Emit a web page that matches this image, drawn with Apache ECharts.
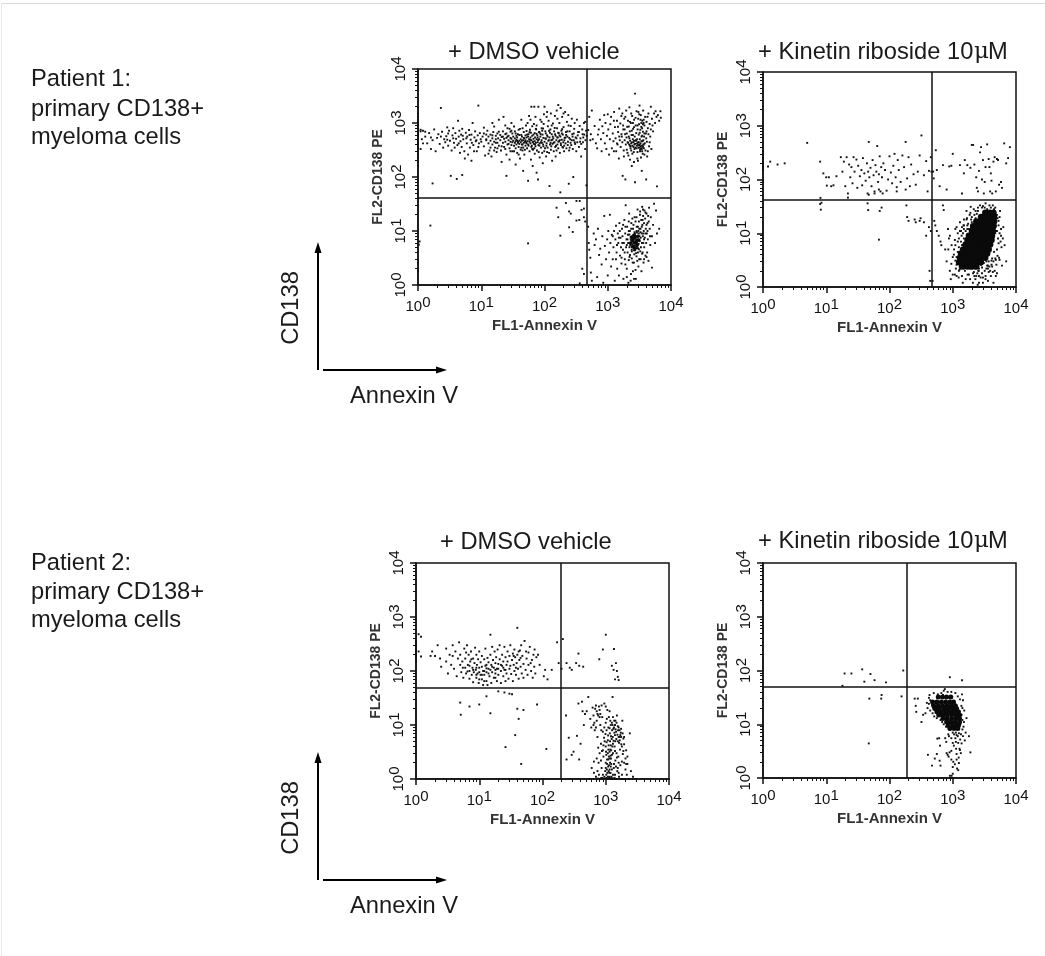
<!DOCTYPE html>
<html><head><meta charset="utf-8">
<style>html,body{margin:0;padding:0;background:#fff}#c{width:1045px;height:956px}</style>
<script src="https://cdn.jsdelivr.net/npm/echarts@6/dist/echarts.min.js"></script>
</head><body><div id="c"></div>
<script>
const panelTitles=["+ DMSO vehicle","+ Kinetin riboside 10","+ DMSO vehicle","+ Kinetin riboside 10"];
const gateX=[470,470,193,190];
const gateY=[42,42,49,49];

const p1UpperLeft=[[1,160],[1,190],[1,230],[1,260],[1,300],[1,340],[1,380],[1,420],[1,470],[1,520],[1,560],[1,600],[1,640],[1,680],[1,720],[1,760],[1,800],[1,880],[1,950],[1,1050],[1,1150],[1,1300],[1,1500],[1,1900],[1.1,700],[1.1,750],[1.2,720],[1.3,690],[1.15,500],[1.2,420],[1.1,330],
[1.3,560],[1.4,420],[1.5,650],[1.6,330],[1.7,480],[1.8,760],[1.9,300],[2,530],[2.1,620],[2.2,410],[2.3,1900],[2.4,690],[2.5,350],[2.6,500],[2.7,440],[2.8,570],[2.9,830],[3,380],[3,640],[3.1,720],[3.2,470],[3.3,105],[3.4,310],[3.5,590],[3.6,800],[3.7,430],[3.8,350],[3.9,650],[4,510],[4.1,92],[4.2,390],[4.3,1100],[4.4,560],[4.5,720],[4.6,280],[4.7,460],[4.8,610],[4.9,360],[5,109],[5,780],[5.2,500],[5.4,300],[5.5,220],[5.7,660],[5.9,420],[6,560],[6.2,260],[6.4,740],[6.6,350],[6.8,490],[7,610],[7,200],[7.3,1000],[7.5,390],[7.8,540],[8,700],[8.2,460],[8.5,300],[8.8,590],[9,2100],[9.2,420],[9.5,650],[9.8,500],[1.7,76],
[10,450],[10.5,560],[11,370],[11,640],[11.5,250],[12,500],[12,480],[12.5,720],[13,420],[13,560],[13.5,310],[14,610],[14,470],[14.5,240],[15,520],[15,400],[15.5,680],[16,450],[16,860],[16.5,350],[17,580],[17,500],[17.5,290],[18,430],[18,640],[18.5,520],[19,1150],[19,380],[20,600],[20,480],[20.5,310],[21,190],[21,550],[22,430],[22,700],[22.5,1300],[23,510],[23,360],[24,620],[24,450],[25,105],[25,260],[25,530],[26,400],[26,800],[27,480],[27,580],[28,340],[28,210],[29,450],[29,690],[30,510],[30,390],[30,1000],[31,300],[31,440],[32,560],[32,470],[33,380],[33,860],[34,430],[34,520],[35,170],[35,460],[35,640],[36,400],[36,490],[37,280],[37,540],[38,430],[38,450],[39,750],[39,360],[40,470],[40,410],[40,600],[41,220],[42,500],[42,440],[43,350],[43,1150],[44,470],[44,560],[45,400],[45,310],[46,130],[46,480],[47,430],[47,680],[48,520],[48,260],[49,450],[50,380],[50,590],[50,480],[51,900],[52,420],[52,540],[53,340],[54,460],[54,1000],[55,400],[55,85],[56,620],[57,500],[57,1350],[58,300],[58,450],[59,750],[60,420],[60,1150],[60,540],[61,210],[62,2000],[62,480],[63,380],[64,580],[64,870],[65,440],[65,160],[66,320],[67,510],[68,960],[68,410],[69,2000],[70,650],[70,460],[70,270],[71,540],[72,1300],[72,370],[73,430],[74,760],[75,500],[75,120],[76,310],[77,590],[78,440],[79,90],[80,2000],[80,390],[82,680],[82,500],[84,230],[84,420],[86,1150],[86,560],[88,350],[88,440],[90,800],[90,480],[92,280],[93,610],[94,180],[95,400],[96,530],[97,960],[98,1450],[100,2000],[100,450],
[102,340],[103,700],[105,510],[106,240],[108,1300],[108,420],[110,590],[112,350],[113,870],[115,470],[116,1100],[118,280],[120,540],[120,68],[122,400],[124,760],[126,1500],[126,320],[128,480],[130,620],[132,200],[134,410],[136,980],[138,520],[140,300],[142,700],[144,440],[146,1350],[148,360],[150,580],[150,240],[154,480],[156,1700],[158,800],[160,400],[162,540],[165,2150],[165,340],[168,650],[170,460],[172,1000],[175,280],[178,52],[178,560],[180,1900],[182,390],[185,720],[188,490],[190,1300],[192,360],[195,610],[198,440],[200,840],[204,300],[208,530],[212,1600],[215,420],[218,680],[222,340],[226,1050],[230,560],[235,450],[238,1400],[242,75],[245,310],[250,700],[255,500],[260,880],[265,390],[270,1200],[275,620],[280,330],[285,100],[290,480],[295,780],[300,1000],[305,410],[310,540],[318,300],[325,1150],[330,440],[340,680],[350,360],[360,880],[370,520],[380,240],[395,760],[405,440],[420,1000],[425,610],[440,1050],[445,480],[455,720],[460,70],[465,580]];
const p1BandExtra=[[12,610],[14,350],[11,820],[17,430],[13,270],[22,560],[19,690],[16,310],[28,780],[25,640],[21,370],[33,300],[30,720],[27,410],[38,620],[35,340],[41,780],[46,350],[43,600],[39,260],[52,710],[49,320],[55,560],[58,680],[62,360],[67,610],[73,780],[69,340],[78,540],[84,660],[81,290],[92,720],[96,370],[105,640],[110,290],[118,720],[125,430],[135,560],[145,810],[155,310],[165,660],[175,480],[190,770],[205,380],[215,540],[230,700],[250,350],[270,480],[290,640],[320,520],[350,680],[380,410],[410,540],[440,330],[15,590],[18,340],[24,330],[26,560],[29,300],[31,640],[34,700],[37,470],[29,530],[36,580],[42,320],[44,400],[47,530],[51,440],[53,610],[56,380],[59,490],[61,660],[64,330],[66,450],[71,400],[75,630],[79,480],[83,380],[87,620],[91,430],[95,790],[99,300],[103,520],[107,380],[112,560],[117,480],[122,660],[128,370],[133,490],[139,430],[147,620],[152,380],[159,540],[166,450],[173,590],[181,420],[188,640],[196,350],[206,480],[220,600],[233,390],[246,530],[258,430],[278,560],[300,440],[335,590],[365,450],[400,620],[6.5,600],[7.7,300],[8.4,480],[5.1,580],[4.4,420],[3.6,520],[2.9,490],[2.3,560],[1.6,540],[9,360],[7.1,430],[5.8,520],[130,900],[160,1200],[200,1500],[240,900],[90,1050],[110,1600],[75,900],[45,800],[24,900],[15,1000]];
const p1UpperRight=[[490,740],[510,1300],[530,480],[540,620],[560,1700],[580,500],[620,880],[650,420],[680,340],[700,610],[720,760],[750,1150],[780,500],[800,300],[820,870],[850,650],[880,1400],[900,420],[920,1000],[950,330],[970,580],[1000,1450],[1020,760],[1050,260],[1080,500],[1100,950],[1130,1300],[1160,340],[1200,640],[1230,460],[1260,1600],[1300,840],[1330,520],[1360,300],[1400,1100],[1430,400],[1460,680],[1500,220],[1520,1850],[1550,480],[1580,980],[1600,360],[1640,1350],[1670,560],[1700,440],[1720,105],[1760,760],[1790,310],[1820,1200],[1850,480],[1880,620],[1900,90],[1930,400],[1960,1700],[1980,540],[2000,320],[2030,850],[2060,440],[2090,1100],[2120,250],[2150,560],[2180,400],[2200,1950],[2230,700],[2260,470],[2290,340],[2320,1000],[2350,420],[2380,600],[2400,160],[2430,1350],[2460,380],[2490,500],[2520,780],[2550,440],[2580,290],[2610,1150],[2640,400],[2670,560],[2700,3500],[2700,80],[2730,350],[2760,900],[2790,470],[2820,650],[2850,1650],[2880,380],[2910,500],[2940,220],[2970,760],[3000,440],[3030,1200],[3060,350],[3090,610],[3120,950],[3150,400],[3180,2100],[3210,500],[3240,300],[3270,750],[3300,420],[3330,1400],[3360,340],[3390,850],[3420,560],[3450,130],[3480,380],[3510,1100],[3540,460],[3570,270],[3600,690],[3630,1700],[3660,400],[3690,1000],[3720,340],[3750,560],[3800,900],[3850,420],[3900,1300],[3950,310],[4000,640],[4050,90],[4100,1050],[4150,450],[4200,240],[4300,800],[4400,1500],[4500,370],[4600,960],[4700,560],[4800,2000],[4900,330],[5000,1200],[5200,700],[5400,1500],[5700,1650],[6000,67],[6200,1400],[6500,1100],[6800,1650],[6900,1250],[2100,430],[2250,380],[2400,440],[2550,360],[2700,410],[2850,340],[3000,390],[3150,350],[3300,370],[3450,330],[3600,360],[3700,400],[2200,520],[2500,600],[2800,480],[3100,440],[3400,460],[2350,310],[2650,330],[2950,290],[3250,320],[3500,300],[2300,370],[2600,470],[2900,420],[3200,390],[3500,800],[3700,1150],[3600,950],[3400,1000],
[1250,1100],[1700,1500],[1450,850],[1900,1300],[2400,720],[1650,620],[2150,860],[3050,1600],[2750,1250],[2350,1500],[3300,1150],[4250,1300],[3150,1450],[2600,840],[2000,640],[1850,760],[1520,560],[1400,420],[1250,300],[1800,240],[2250,210],[2600,190],[3000,200],[3350,230],[3800,260],[4300,300],[4600,440],[4100,700],[3800,640],[3500,580],[3200,660],[2950,900],[2500,1000],[2250,1050],[1750,900],[2050,280],[2450,270],[3650,480],[4050,520],[4400,620],[4800,760],[5100,900],[5600,1000],[5900,1300]];
const p1LowerLeft=[[1.57,12.6],[1.06,6.4],[1.03,5.6],[1,2.6],[1,1.8],[55,5.9],[155,27],[218,33],[165,18],[178,8.2],[245,23],[260,21],[245,11.7],[280,9.6],[320,36],[360,36],[385,24.6],[420,26],[320,15.6],[355,16],[420,18],[440,15],[395,2],[360,1.07],[420,1.6]];
const p1LowerRight=[[490,12],[500,6],[510,4.5],[530,3.2],[540,1.7],[560,1.2],[600,9],[620,5.5],[650,7],[680,1.4],[700,11],[730,3.6],[760,4.7],[800,2.4],[820,8],[850,1.1],[880,19],[900,5.3],[940,3],[980,7],[1000,1.5],[1020,10],[1050,4],[1080,20],[1100,6],[1130,2.2],[1160,8.5],[1200,3],[1230,5],[1260,10],[1290,1.2],[1320,7],[1350,12.5],[1380,4],[1410,2],[1440,9],[1470,6],[1500,1.5],[1530,14],[1560,3.5],[1590,7.5],[1620,5],[1650,2.5],[1680,11],[1710,8],[1740,4.5],[1770,1.3],[1800,6],[1830,16],[1860,3],[1890,9],[1920,30],[1950,5],[1980,7],[2000,2],[2030,12],[2060,4],[2090,8.5],[2120,1.1],[2150,6],[2180,21],[2210,3.3],[2240,10],[2270,5.5],[2300,7],[2330,1.6],[2360,14],[2390,4.5],[2420,8],[2450,6.5],[2480,2.6],[2510,11],[2540,5],[2570,7],[2600,6],[2630,3.7],[2660,18],[2690,9],[2720,4.4],[2750,6.5],[2780,1.3],[2810,8],[2840,5.5],[2870,12],[2900,6],[2930,2.8],[2960,25],[2990,7],[3020,4.8],[3050,10],[3080,5.8],[3110,15],[3140,3],[3170,8],[3200,6.5],[3230,20],[3260,4.2],[3290,11],[3320,7.5],[3350,5],[3380,16],[3410,1.8],[3440,9],[3470,6],[3500,28],[3530,13],[3560,4],[3590,8],[3620,19],[3650,6],[3680,2.6],[3710,10],[3740,14],[3770,5],[3800,24],[3850,7.5],[3900,17],[3950,3.5],[4000,11],[4050,6],[4100,21],[4150,9],[4200,4],[4250,14],[4300,7],[4400,2.8],[4500,27],[4600,11],[4700,5.5],[4800,18],[5000,8],[5200,13],[5400,32],[5600,6],[5800,24],[6000,9],[6500,11],[5000,2.1],[2100,6],[2200,5],[2300,5.4],[2350,6.6],[2400,5],[2450,5.7],[2500,6.3],[2550,4.8],[2600,7.4],[2650,5.4],[2700,6.2],[2750,5],[2800,7],[2850,6],[2900,4.8],[2950,7.8],[3000,5.6],[3050,6.8],[3100,4.6],[2300,7.8],[2500,8.2],[2700,8.4],[2900,9.4],[3100,9],[2400,4.2],[2600,4.4],[2800,3.9],[3000,4],[2200,8.6],[2000,5.5],
[1200,8],[1400,5.5],[1550,10],[1700,6],[1850,4],[1900,12],[2050,7],[2150,10],[2250,3.6],[2350,11],[2550,13],[2650,9.5],[2750,15],[2850,10],[3000,12],[3150,11],[3300,9.5],[3450,12],[3550,16],[3650,9],[3750,7],[3950,9],[4100,13],[4250,10],[4450,15],[4650,8],[4350,19],[3950,22],[3600,25],[3250,23],[2850,18],[2450,17],[2150,15],[1750,13],[1500,7.5],[1350,3],[1650,3.2],[1900,2.4],[2150,2.9],[2400,3.1],[2600,2.6],[2850,3.4],[3050,2.2],[3300,3],[3500,3.8],[3750,3],[4100,3.3],[2500,1.8],[2750,1.9],[2000,1.4],[2300,1.2],[2600,1.3]];
const p1Core=[[2300,6],[2500,5.2],[2500,6.8],[2700,6],[2700,7.6],[2700,4.8],[2900,6.6],[2900,5.4],[2600,8.4],[3000,8],[2400,7.6],[3100,6.8]];

const p2UpperLeft=[[1,150],[1,165],[1,180],[1,200],[1,215],[1,240],[1,255],[1,280],[1,310],[1,340],[1,95],[1.3,215],[1.2,175],[2.2,200],[1.7,190],[10,110],[9,130],[8,215],[5,480],[8.1,45.5],[8.4,37],[10.2,77],[11,110],[12,75],[13,78],[14.5,115],[17,260],[18,140],[19,215],[20,75],[21,260],[22,55],[23,190],[24,110],[25,170],[26,85],[27,260],[28,140],[30,235],[31,70],[32,180],[34,115],[36,150],[37,78],[38,250],[40,130],[42,95],[44,200],[45,55],[46,140],[47,500],[48,110],[50,165],[52,75],[54,230],[56,120],[58,60],[60,185],[62,140],[64,420],[66,90],[68,125],[70,270],[72,60],[74,170],[76,110],[78,55],[80,200],[85,150],[90,62],[95,100],[100,270],[105,135],[110,85],[115,180],[120,300],[125,110],[130,72],[135,230],[140,150],[150,90],[160,280],[170,170],[180,500],[190,105],[200,260],[210,75],[220,190],[240,125],[260,80],[280,140],[300,280],[320,660],[350,120],[380,220],[400,60],[420,145],[450,260],[460,140],[22,46],[47,52],[58,55],[68,65],[130,60],[180,65]];
const p2UpperRight=[[490,140],[500,105],[540,350],[560,150],[620,75],[700,185],[800,65],[880,175],[950,180],[1300,185],[1400,55],[1500,130],[1550,230],[1700,185],[1900,165],[2000,440],[2100,440],[2200,190],[2350,110],[2400,70],[2500,60],[2600,145],[2800,400],[2900,100],[3000,230],[3100,55],[3200,90],[3300,170],[3500,450],[3700,240],[3800,170],[3900,60],[4000,130],[4100,95],[4200,55],[4400,215],[4600,260],[5000,240],[5200,230],[5400,80],[5800,90],[6000,70],[6500,470],[7000,200],[7500,250],[8000,400],[4800,60],[1000,300],[2700,320]];
const p2LowerLeft=[[8,35],[8.2,27.5],[68,7.6],[45,36],[46,27],[70,26],[75,30],[185,33],[190,20],[200,17],[250,18],[260,16],[300,17],[310,19],[350,16],[380,9],[420,13],[450,11],[430,2],[440,1.3],[480,1.3]];
const p2LowerRight=[[510,17],[530,14],[560,11],[600,9],[640,7],[660,6],[700,33],[720,27],[760,5],[800,3],[840,12],[870,8],[900,2],[930,1.4],[960,6],[1000,1],[1040,4],[1080,1.7],[1120,2.2],[1160,1],[1200,10],[1240,1.5],[1280,2.1],[1320,1],[1360,3],[1400,1.6],[1440,1.2],[1480,14],[1520,1],[1560,2],[1600,1.4],[1640,1],[1680,19],[1720,1.7],[1760,1],[1800,2.6],[1840,1],[1880,1.4],[1920,31],[1960,1],[2000,2.2],[2040,1],[2080,1.2],[2120,1],[2160,1.9],[2200,1],[2240,1],[2280,1.4],[2320,1],[2360,1],[2400,23],[2440,1],[2480,1.1],[2520,1],[2560,2],[2600,1.2],[2640,1],[2680,2.7],[2720,1],[2760,1.5],[2800,1],[2900,1.8],[3000,1.2],[3100,1],[3200,30],[3300,1.6],[3400,1],[3500,2.5],[3600,1.3],[3700,1.9],[3800,1],[4000,1.6],[4200,2.4],[4400,1.2],[4600,2],[4800,1.6],[5000,1.8],[5400,3.5],[5600,26],[5800,9],[6000,2.5],[6300,13],[6600,6],[7000,3],[1000,1.7],[1100,6],[1150,3.6],[1250,8],[1300,4.2],[1350,7],[1400,3],[1450,6],[1500,2.2],[1550,5],[1600,4],[1650,2.6],[1700,9],[1750,3.3],[1800,12],[1850,2.2],[1900,4.5],[1950,18],[2000,16],[2050,3.8],[2100,1.8],[2150,28],[2200,3],[2250,2.2],[2300,26],[2350,1.6],[2400,2.6],[2450,1.8],[2500,30],[2550,2],[2600,2.2],[2700,33],[2800,2.6],[2900,2.3],[3000,32],[3100,2.8],[3200,2],[3300,1.4],[3400,3],[3500,28],[3600,2.2],[3700,3],[3800,2.4],[3900,2],[4000,30],[4100,2.6],[4200,3.4],[4300,1.9],[4500,28],[4700,24],[4800,3.2],[4900,2.6],[5100,19],[5300,14],[5500,10],[5700,7],[5900,5.5],[1150,13],[1300,11],[1200,4.5],[1380,9],[1500,8],[1250,2],[1150,1.6],
[900,9],[1050,5],[1100,12],[1200,7],[1300,16],[1400,6],[1500,12],[1650,18],[1750,15],[1850,22],[1500,18],[1650,26],[1300,3],[1150,2.6],[1000,3.6],[850,5],[950,2.7],[1100,3.1],[1250,5.5],[1080,7.5],[1350,11],[1500,14],[1700,14],[1450,10],[4500,4.5],[4700,10],[4800,14],[5000,5],[5200,8],[5300,6.5],[5500,3.2],[5100,3.8],[4700,3.4],[4400,3],[4100,3.1],[3600,2.5],[3400,2.2],[3000,1.5],[2600,1.6],[2200,1.6],[1800,1.7],[5000,11],[5300,17],[5000,22],[4700,30],[4300,33],[3800,33],[3300,36],[2900,30],[2500,26],[2200,22],[1900,24],[5800,12],[6200,8],[5500,20],[1700,12],[1600,11],[1400,13],[2000,20],[2300,19]];
const p2Core=[[3270,24],[3830,24],[4400,24],[2800,20],[3260,20],[3830,20],[4500,20],[2360,16.5],[2780,16.5],[3260,16.5],[3830,16.5],[4500,16.5],[2100,13.5],[2360,13.5],[2780,13.5],[3260,13.5],[3830,13.5],[4400,13.5],[2010,11],[2360,11],[2780,11],[3260,11],[3830,11],[4300,11],[1800,9],[2100,9],[2360,9],[2780,9],[3260,9],[3830,9],[4170,9],[1710,7.5],[2010,7.5],[2360,7.5],[2780,7.5],[3260,7.5],[3830,7.5],[4100,7.5],[1600,6.2],[1850,6.2],[2200,6.2],[2560,6.2],[3000,6.2],[3500,6.2],[3900,6.2],[1460,5],[1710,5],[2010,5],[2360,5],[2780,5],[3260,5],[3700,5],[1350,4.2],[1600,4.2],[1850,4.2],[2200,4.2],[2560,4.2],[3000,4.2],[3500,4.2],[1300,3.5],[1500,3.5],[1710,3.5],[2010,3.5],[2360,3.5],[2780,3.5],[3260,3.5],[1260,2.9],[1460,2.9],[1710,2.9],[2010,2.9],[2360,2.9],[2780,2.9],[1400,2.4],[1710,2.4],[2010,2.4],[2360,2.4]];

const p3UpperLeft=[[1,150],[1,170],[1,190],[1,205],[1,220],[1,235],[1,250],[1,265],[1,280],[1,300],[1,330],[1,360],[1.1,230],[1.1,480],[1.2,430],[1.2,185],[1.7,190],[1.8,230],[2,190],[2.2,300],[2.4,170],[2.5,120],[3,150],[3,260],[3.2,90],[3.4,200],[3.6,130],[3.8,300],[4,110],[4.2,230],[4.4,80],[4.6,170],[4.8,340],[5,130],[5,200],[5.2,95],[5.4,150],[5.6,75],[5.8,260],[6,115],[6,170],[6.2,90],[6.4,300],[6.6,130],[6.8,200],[7,100],[7,72],[7.2,150],[7.4,230],[7.6,85],[7.8,115],[8,170],[8,62],[8.2,95],[8.4,140],[8.6,270],[8.8,105],[9,200],[9,75],[9.2,130],[9.4,90],[9.6,165],[9.8,60],[10,115],[10,230],[10.5,85],[10.5,145],[11,70],[11,190],[11.5,100],[11.5,55],[12,165],[12,85],[12.5,125],[12.5,260],[13,65],[13,95],[13.5,175],[13.5,55],[14,110],[14,145],[14.5,80],[15,470],[15,200],[15.5,130],[15.5,60],[16,95],[16,280],[16.5,160],[17,75],[17,115],[17.5,230],[18,140],[18,90],[18.5,180],[19,65],[19,110],[19.5,250],[20,135],[20,85],[21,300],[21,165],[22,100],[22,60],[23,200],[23,125],[24,80],[24,150],[25,280],[25,105],[26,65],[26,180],[27,130],[27,90],[28,230],[28,150],[29,72],[30,110],[30,190],[31,125],[31,300],[32,88],[33,160],[34,210],[34,65],[35,130],[36,100],[36,250],[37,180],[38,85],[39,140],[40,630],[40,200],[41,110],[42,72],[43,160],[44,240],[45,120],[46,300],[47,90],[48,190],[50,135],[50,75],[52,360],[54,105],[56,170],[58,85],[60,220],[60,130],[63,280],[66,100],[68,160],[70,75],[72,200],[74,120],[77,90],[80,180],[85,200],[90,130],[110,105],[120,70],[170,340],[200,110],[210,390],[180,140],[140,105],[105,80],
[7,125],[8,105],[9,115],[10,95],[11,120],[12,100],[13,130],[14,90],[15,105],[9,85],[11,85],[13,112],[16,120],[18,105],[10,70],[12,65],[20,110],[22,130],[24,115],[26,105],[18,75],[5.5,115],[6.5,98],[7.5,165],[3.8,190],[6.2,220],[35,190],[38,115],[42,230],[45,175],[55,230],[65,140],[75,250]];
const p3UpperRight=[[240,140],[270,115],[290,105],[340,140],[370,210],[380,125],[440,120],[790,165],[900,250],[1000,470],[1250,125],[1330,105],[1350,255],[1450,140],[1400,70],[1550,78],[1600,68],[1500,100]];
const p3LowerLeft=[[5,26],[5.1,15.5],[7,22],[10,24],[15,16.5],[13,34],[20,42],[25,40],[30,38],[33,37],[40,20],[42,13],[37,6.5],[26,3.9],[46,1.9],[50,19],[82,24],[115,3.6]];
const p3LowerRight=[[235,15],[260,5.8],[240,2.3],[290,2.8],[310,3.2],[350,6.3],[370,25],[420,27],[430,18],[400,4.5],[380,2.3],[470,16],[450,10],[500,18],[530,33],[550,1],[570,13],[590,9],[620,21],[640,15],[650,1.3],[670,8],[700,23],[720,12],[740,6],[760,3.8],[780,1.2],[800,19],[820,10],[840,4.5],[860,1.6],[880,14],[900,7.5],[920,2.6],[950,25],[960,5],[980,1.4],[1000,11],[1010,3.2],[1030,8],[1050,1],[1060,19],[1080,5.2],[1100,2.3],[1120,14],[1140,1.3],[1160,7],[1180,3.5],[1200,10],[1220,1.9],[1240,5.5],[1260,1],[1280,33],[1300,3],[1320,8.5],[1340,1.6],[1360,12],[1380,4],[1400,6.5],[1420,2.2],[1440,1],[1460,7.5],[1480,3],[1500,15],[1520,1.4],[1550,5],[1580,2.6],[1600,9],[1620,1.1],[1650,6],[1680,3.5],[1700,1.8],[1730,7.2],[1760,4.4],[1800,1.2],[1830,12],[1860,2.9],[1900,5.6],[1950,2],[2000,1],[2050,1.5],[2100,3.4],[2150,1.2],[2200,1.9],[2300,1],[2400,7],[2500,1.4],[2700,1.1],[3000,1],[800,1],[900,1.2],[950,1.1],[1000,1.6],[1020,1.2],[1040,1.5],[1060,1.3],[1080,1.1],[1090,1.7],[1100,1],[1110,1.4],[1130,1.8],[1150,1.1],[1170,2],[1190,1.3],[1210,2.4],[1230,1.1],[1000,2],[1020,2.8],[1050,2.3],[1080,3],[1120,2.6],[1150,3.2],[1190,2.7],[1220,3.4],[1250,2.8],[1300,1.2],[1350,1],[1400,1.2],[1450,1.7],[1500,1],[1600,1.3],[1700,1],[1800,2.1],[1900,1],[700,1.1],[740,1.4],[770,2],[840,2.2],[870,3.3],[920,4.2],[940,5.8],[990,6.8],[1030,4.8],[1090,6.4],[1110,4.2],[1170,5],[1210,6.2],[1270,4],[1290,6],[1330,5.1],[1370,7.2],[1410,5],[1430,8.3],[1470,5.5],[1530,6.6],[1570,8],[1620,4.7],[1660,5.2],[1700,6.5],[1750,8.5],[1850,7],[1950,6],[1100,9],[1250,11],[1400,10],[1300,14],[1150,18],[1000,22],[860,23],[780,22],[720,18],[660,11],[640,10],[700,9],[760,15],[820,16],
[680,20],[740,16],[800,14],[850,8],[950,9],[1040,13],[1180,12],[1260,8],[1350,9],[1480,11],[1600,6],[1650,8],[1750,6],[1800,4],[1900,3.3],[1950,4.4],[2050,2.4],[2100,1.9],[2200,2.6],[1600,2],[1500,2.5],[1400,3.3],[1300,4.5],[1200,4.2],[1100,3.5],[1000,4],[900,3.4],[800,3],[720,2.4],[650,2.1],[600,1.6],[1050,1.9],[1150,2.4],[1250,1.5],[1350,1.9],[1550,1.6],[1150,8.7],[1280,10],[1420,12],[1550,9.5],[1150,1.5],[1200,1.7],[1020,1.05],[1080,1.02],[1130,1.05],[1180,1.02],[1240,1.04],[1320,1.02],[1380,1.05],[950,1.02],[880,1.05],[840,1.03],[760,1.02]];

const p4UpperLeft=[[18,52],[19.5,88],[25,88],[37,105],[40,62],[50,86],[58,66],[88,60],[165,100]];
const p4UpperRight=[[900,75],[1400,66]];
const p4LowerLeft=[[48,30],[75,35],[74,30],[155,33],[47,4.4]];
const p4LowerRight=[[240,1],[250,30],[280,30],[260,22],[265,17],[320,11],[340,15],[370,16],[390,25],[400,20],[405,2.7],[430,35],[440,18],[450,1],[470,1.7],[500,38],[520,2.3],[560,2.8],[570,5.4],[610,5.5],[620,2.1],[630,4],[640,1.7],[660,14],[680,11],[700,35],[720,42],[750,45],[760,5.5],[790,4.7],[800,2.9],[830,2.7],[860,2.5],[870,6],[890,3],[900,1.1],[920,1],[950,1],[960,1.1],[980,1],[1000,1.2],[1020,2],[1040,4],[1080,1.8],[1100,5.5],[1130,3.5],[1150,2.8],[1170,1.5],[1200,6],[1220,4.5],[1240,2.4],[1280,3.5],[1310,5.2],[1340,2.9],[1380,4.4],[1420,8],[1450,6],[1500,11],[1550,5],[1600,7],[1650,13],[1800,6],[1900,3],[1400,36],[1450,28],[1520,18],[440,28],[470,23],[420,24],[480,16],[510,14],[1120,7],[1000,7],[900,8],[1230,8],[1320,10],[1380,15],[1370,22],[1420,20],[1300,29],[1200,33],[1100,38],[950,40],[830,40],[660,38],[580,36],[420,31],
[850,6.5],[950,5.5],[1050,6.5],[1150,6.3],[1250,6.8],[1350,6.5],[1000,4.5],[1120,4.7],[1300,3.3],[1250,1.9],[1150,2.2],[1220,1.4],[1000,1.6],[950,3.2],[950,2.2],[1480,9],[1420,12],[780,9],[720,10],[640,12],[560,13]];
const p4Core=[[590,32],[690,32],[800,32],[930,32],[480,26],[560,26],[660,26],[770,26],[900,26],[1030,26],[500,22],[590,22],[690,22],[810,22],[950,22],[1100,22],[520,19.7],[610,19.7],[720,19.7],[840,19.7],[990,19.7],[1150,19.7],[560,17],[660,17],[770,17],[900,17],[1050,17],[1230,17],[600,14.8],[700,14.8],[820,14.8],[960,14.8],[1130,14.8],[1280,14.8],[700,12.8],[820,12.8],[960,12.8],[1130,12.8],[1280,12.8],[800,11],[930,11],[1090,11],[1280,11],[850,9.5],[1000,9.5],[1170,9.5],[1230,9.5],[900,8.3],[1050,8.3],[1200,8.3]];

const panels=[
 {box:[418,69,253,216],sets:[p1UpperLeft,p1BandExtra,p1UpperRight,p1LowerLeft,p1LowerRight],core:p1Core,coreSize:3.5},
 {box:[763,72,253,215],sets:[p2UpperLeft,p2UpperRight,p2LowerLeft,p2LowerRight],core:p2Core,coreSize:6.5},
 {box:[416,563,253,216],sets:[p3UpperLeft,p3UpperRight,p3LowerLeft,p3LowerRight],core:[],coreSize:0},
 {box:[763,563,253,215],sets:[p4UpperLeft,p4UpperRight,p4LowerLeft,p4LowerRight],core:p4Core,coreSize:5}
];
const INK='#111';
const FONT='"Liberation Sans",Arial,sans-serif';
const tickRich={b:{fontSize:15,fontFamily:FONT,color:INK},s:{fontSize:15,fontFamily:FONT,color:INK,padding:[0,0,8,0]}};
const tickFmt=v=>'{b|10}{s|'+Math.round(Math.log10(v))+'}';
const grid=[],xAxis=[],yAxis=[],series=[];
const nameStyle=size=>({fontSize:size,fontWeight:'bold',color:'#333',fontFamily:FONT});
panels.forEach((p,i)=>{
 grid.push({left:p.box[0],top:p.box[1],width:p.box[2],height:p.box[3],show:true,borderColor:INK,borderWidth:1.5,backgroundColor:'transparent'});
 xAxis.push({type:'log',logBase:10,min:1,max:10000,gridIndex:i,name:'FL1-Annexin V',nameLocation:'middle',nameGap:33,
  nameTextStyle:nameStyle(15),
  axisLine:{show:true,lineStyle:{color:INK,width:1.5}},axisTick:{show:true,length:6,inside:false,lineStyle:{color:INK,width:1.5}},
  minorTick:{show:true,splitNumber:9,length:3,lineStyle:{color:INK,width:1}},splitLine:{show:false},minorSplitLine:{show:false},
  axisLabel:{show:true,margin:10,formatter:tickFmt,rich:tickRich,hideOverlap:false,showMinLabel:true,showMaxLabel:true}});
 yAxis.push({type:'log',logBase:10,min:1,max:10000,gridIndex:i,name:'FL2-CD138 PE',nameLocation:'middle',nameGap:33,nameRotate:90,
  nameTextStyle:nameStyle(14),
  axisLine:{show:true,lineStyle:{color:INK,width:1.5}},axisTick:{show:true,length:6,inside:false,lineStyle:{color:INK,width:1.5}},
  minorTick:{show:true,splitNumber:9,length:3,lineStyle:{color:INK,width:1}},splitLine:{show:false},minorSplitLine:{show:false},
  axisLabel:{show:true,rotate:90,margin:6,formatter:tickFmt,rich:tickRich,hideOverlap:false,showMinLabel:true,showMaxLabel:true}});
 series.push({type:'scatter',xAxisIndex:i,yAxisIndex:i,symbol:'rect',symbolSize:1.9,silent:true,
  data:[].concat(...p.sets),itemStyle:{color:'#111',opacity:1},
  markLine:{silent:true,symbol:'none',animation:false,label:{show:false},lineStyle:{color:INK,width:1.5,type:'solid'},
   data:[{xAxis:gateX[i]},{yAxis:gateY[i]}]}});
 if(p.core.length) series.push({type:'scatter',xAxisIndex:i,yAxisIndex:i,symbol:'circle',symbolSize:p.coreSize,silent:true,data:p.core,itemStyle:{color:'#0a0a0a',opacity:1}});
});
const BIG='23.7px '+FONT;
const txt=(x,y,s,o={})=>({type:'text',x,y,style:Object.assign({text:s,fill:'#1a1a1a',font:BIG,textAlign:'left',textVerticalAlign:'middle'},o)});
const line=(a,b,c,d)=>({type:'line',shape:{x1:a,y1:b,x2:c,y2:d},style:{stroke:'#000',lineWidth:2}});
const poly=pts=>({type:'polygon',shape:{points:pts},style:{fill:'#000'}});
const arrows=(top,bot)=>[
 line(318,top+8,318,bot),poly([[318,top],[314.5,top+11],[321.5,top+11]]),
 line(323,bot,438,bot),poly([[447,bot],[436,bot-3.5],[436,bot+3.5]]),
 {type:'text',x:291,y:(top+bot)/2+2,rotation:Math.PI/2,style:{text:'CD138',fill:'#1a1a1a',font:BIG,textAlign:'center',textVerticalAlign:'middle'}},
 txt(350,bot+26,'Annexin V')
];
const mu=(x,y)=>txt(x,y,'μ',{font:'23px "DejaVu Serif",serif'});
const graphic=[
 txt(31,79,'Patient 1:'),txt(31,109,'primary CD138+'),txt(31,137,'myeloma cells'),
 txt(31,563,'Patient 2:'),txt(31,592,'primary CD138+'),txt(31,620,'myeloma cells'),
 txt(448,52,panelTitles[0]),txt(758,52,panelTitles[1]),mu(974,52),txt(988,52,'M'),
 txt(440,542,panelTitles[2]),txt(758,541,panelTitles[3]),mu(974,541),txt(988,541,'M'),
 ...arrows(242,370),...arrows(752,880),
 {type:'rect',shape:{x:1,y:3,width:1044,height:1},style:{fill:'#dcdcdc'}},
 {type:'rect',shape:{x:1,y:3,width:1,height:953},style:{fill:'#e8e8e8'}}
];
const chart=echarts.init(document.getElementById('c'),null,{renderer:'canvas'});
chart.setOption({animation:false,backgroundColor:'#fff',grid,xAxis,yAxis,series,graphic});
</script></body></html>
